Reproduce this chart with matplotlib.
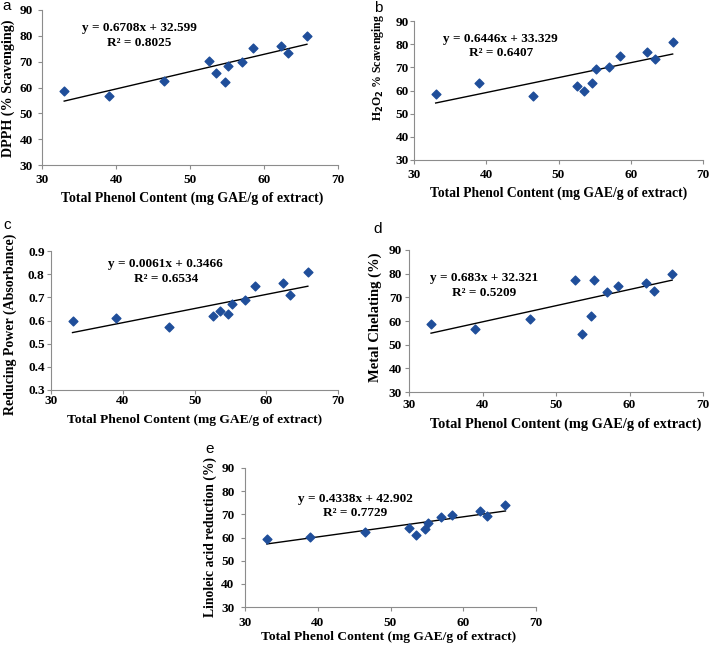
import numpy as np
import matplotlib
matplotlib.use("Agg")
import matplotlib.pyplot as plt

plt.rcParams['font.family'] = ['Liberation Serif', 'DejaVu Serif']

# total phenol content (same for every panel)
tpc = [33.0, 39.0, 46.5, 52.6, 53.5, 54.7, 55.2, 57.0, 58.5, 62.3, 63.3, 65.8]

dpph = [58.8, 56.6, 62.5, 70.2, 65.5, 62.2, 68.3, 69.9, 75.3, 76.1, 73.4, 80.0]
h2o2 = [58.3, 63.3, 57.6, 62.0, 59.7, 63.3, 69.2, 70.2, 75.1, 76.6, 73.8, 81.0]
reducing = [0.60, 0.61, 0.57, 0.62, 0.64, 0.63, 0.67, 0.69, 0.75, 0.76, 0.71, 0.81]
chelating = [58.7, 56.6, 61.0, 77.5, 54.6, 62.3, 77.2, 72.3, 74.9, 75.9, 72.6, 79.8]
linoleic = [59.5, 60.2, 62.3, 64.3, 61.0, 63.7, 66.2, 68.7, 69.7, 71.5, 69.2, 74.0]

slopes = [0.6708, 0.6446, 0.0061, 0.683, 0.4338]
intercepts = [32.599, 33.329, 0.3466, 32.321, 42.902]
eq_text = ["y = 0.6708x + 32.599\nR² = 0.8025",
           "y = 0.6446x + 33.329\nR² = 0.6407",
           "y = 0.0061x + 0.3466\nR² = 0.6534",
           "y = 0.683x + 32.321\nR² = 0.5209",
           "y = 0.4338x + 42.902\nR² = 0.7729"]
ylabels = ["DPPH (% Scavenging)",
           r"H$_\mathbf{2}$O$_\mathbf{2}$ % Scavenging",
           "Reducing Power (Absorbance)",
           "Metal Chelating (%)",
           "Linoleic acid reduction (%)"]
letters = ["a", "b", "c", "d", "e"]
series = [dpph, h2o2, reducing, chelating, linoleic]

W, H = 709, 647
fig = plt.figure(figsize=(W / 100, H / 100), dpi=100)

# axes boxes in pixels: left, top, right, bottom
boxes = [(42, 10, 338, 165), (414, 21, 703, 160), (51, 251, 338, 390),
         (409, 250, 703, 392), (245, 468, 536, 607)]
eq_pos = [(0.33, 0.835), (0.30, 0.82), (0.40, 0.855), (0.255, 0.75), (0.38, 0.727)]
letter_pos = [(7, 6), (378, 8), (7, 225), (378, 229), (210, 449)]
# label centres in pixels: ylabel (x, y), xlabel (x, y)
ylab_c = [(8, 88), (378, 68), (10, 324), (375, 317), (210, 537)]
xlab_c = [(192, 198), (559, 193), (195, 420), (566, 424), (389, 637)]
ylab_fs = [10.2, 8.5, 10.0, 10.5, 9.8]
xlab_fs = [10.0, 9.8, 9.7, 10.4, 9.7]
xpad = [3.4, 3.4, 0.8, 1.8, 4.0]
ypad = [3.5, 0.8, 1.5, 2.0, 4.5]

for i in range(5):
    l, t, r, b = boxes[i]
    w, h = r - l, b - t
    ax = fig.add_axes([l / W, 1 - b / H, w / W, h / H])
    ax.scatter(tpc, series[i], marker='D', s=20, color='#1f4e9a', zorder=3)
    xs = np.array([min(tpc), max(tpc)])
    ax.plot(xs, slopes[i] * xs + intercepts[i], color='black', lw=1)
    ax.set_xlim(30, 70)
    ax.set_xticks([30, 40, 50, 60, 70])
    if i == 2:
        ax.set_ylim(0.3, 0.9)
        ax.set_yticks(np.arange(0.3, 0.95, 0.1))
        ax.set_yticklabels(["0.3", "0.4", "0.5", "0.6", "0.7", "0.8", "0.9"])
    else:
        ax.set_ylim(30, 90)
        ax.set_yticks(range(30, 91, 10))
    for s in ['top', 'right']:
        ax.spines[s].set_visible(False)
    for s in ['left', 'bottom']:
        ax.spines[s].set_color('#8c8c8c')
    ax.tick_params(colors='#8c8c8c', labelcolor='black', length=3, width=0.8)
    ax.tick_params(axis='x', pad=xpad[i])
    ax.tick_params(axis='y', pad=ypad[i])
    for lab in ax.get_xticklabels() + ax.get_yticklabels():
        lab.set_fontweight('bold')
        lab.set_fontsize(9.5)
    ax.set_xlabel("Total Phenol Content (mg GAE/g of extract)", fontsize=xlab_fs[i],
                  fontweight='bold', va='center')
    ax.set_ylabel(ylabels[i], fontsize=ylab_fs[i], fontweight='bold', va='center')
    ax.xaxis.set_label_coords((xlab_c[i][0] - l) / w, (b - xlab_c[i][1]) / h)
    ax.yaxis.set_label_coords((ylab_c[i][0] - l) / w, (b - ylab_c[i][1]) / h)
    ax.text(eq_pos[i][0], eq_pos[i][1], eq_text[i], transform=ax.transAxes,
            ha='center', va='center', fontsize=9.5, fontweight='bold',
            linespacing=1.3)
    fig.text(letter_pos[i][0] / W, 1 - letter_pos[i][1] / H, letters[i],
             fontsize=11, family='Liberation Sans', ha='center', va='center')

fig.savefig("out.png", dpi=100)
